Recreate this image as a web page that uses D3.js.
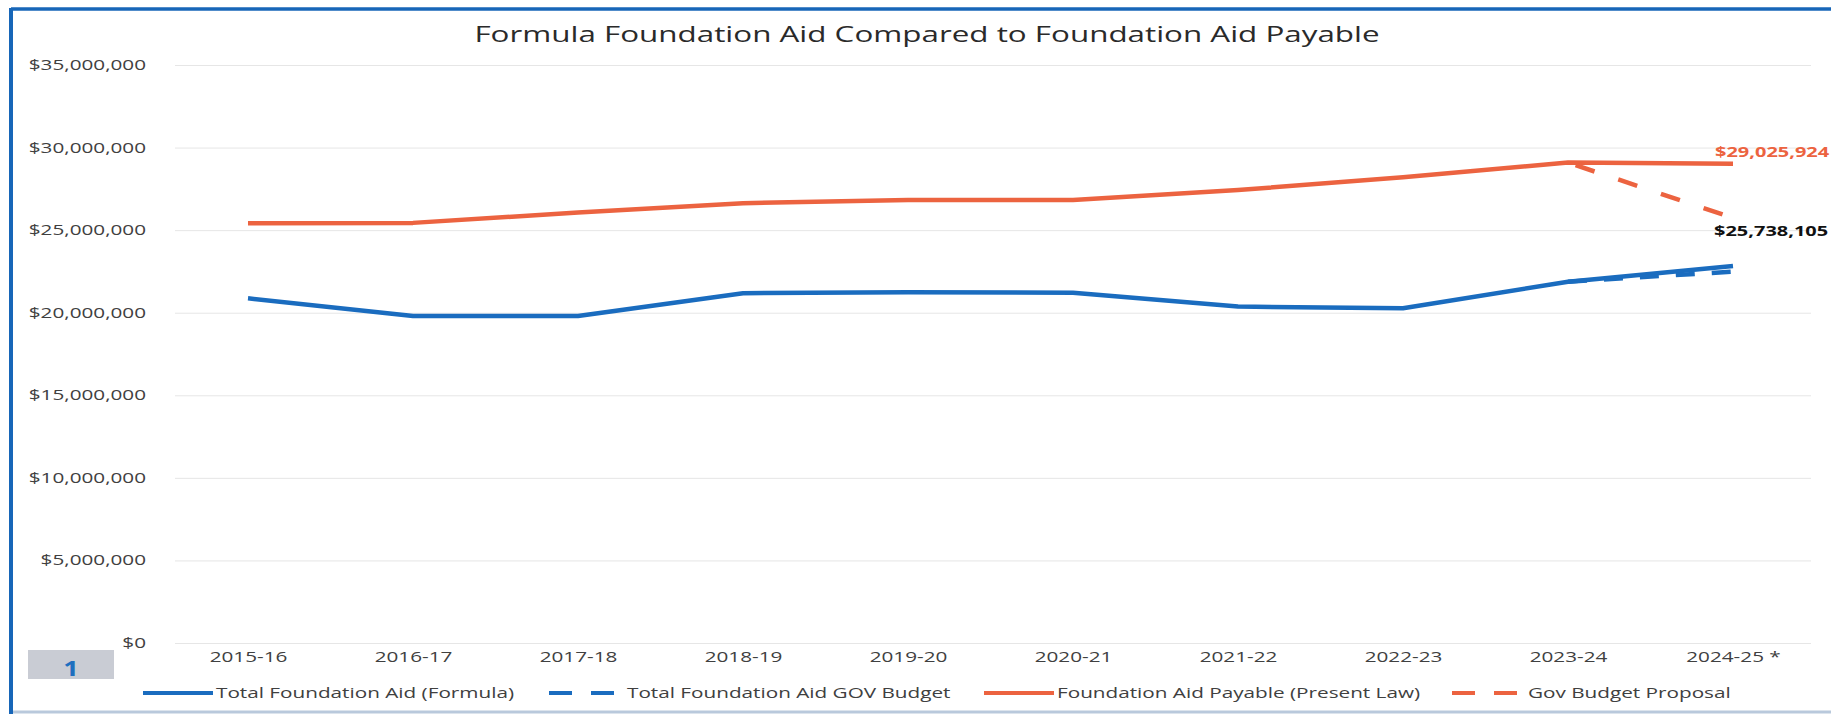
<!DOCTYPE html>
<html>
<head>
<meta charset="utf-8">
<script src="https://cdn.jsdelivr.net/npm/d3@7"></script>
<style>
  html, body { margin: 0; padding: 0; background: #fff; overflow: hidden; width: 1832px; height: 714px; }
  #chart { width: 1832px; height: 714px; overflow: hidden; }
  svg { display: block; }
</style>
</head>
<body>
<div id="chart"></div>
<script>
/* globals d3 */
const years = ["2015-16", "2016-17", "2017-18", "2018-19", "2019-20", "2020-21", "2021-22", "2022-23", "2023-24", "2024-25 *"];
const formulaAid = [20870000, 19800000, 19800000, 21180000, 21240000, 21210000, 20370000, 20270000, 21880000, 22830000];
const govBudgetAid = [null, null, null, null, null, null, null, null, 21880000, 22490000];
const presentLaw = [25420000, 25440000, 26070000, 26630000, 26830000, 26830000, 27430000, 28200000, 29090000, 29025924];
const govProposal = [null, null, null, null, null, null, null, null, 29090000, 25738105];
const yTicks = [0, 5000000, 10000000, 15000000, 20000000, 25000000, 30000000, 35000000];
const seriesNames = ["Total Foundation Aid (Formula)", "Total Foundation Aid GOV Budget", "Foundation Aid Payable (Present Law)", "Gov Budget Proposal"];
const endLabels = [29025924, 25738105];

const width = 1832;
const height = 714;
const blue = "#1a6cbf";
const orange = "#ec6340";
const font = "'Open Sans', sans-serif";
const sx = 1.48; // the scan is stretched sideways, text too

const svg = d3.select("#chart").append("svg")
  .attr("width", width)
  .attr("height", height);

// frame of the page: blue on top and left, pale at the bottom
svg.append("line").attr("x1", 11).attr("x2", width - 1).attr("y1", 9).attr("y2", 9)
  .attr("stroke", "#1766b8").attr("stroke-width", 3.5);
svg.append("line").attr("x1", 11).attr("x2", 11).attr("y1", 8).attr("y2", height)
  .attr("stroke", "#1766b8").attr("stroke-width", 4);
svg.append("line").attr("x1", 13).attr("x2", width - 1).attr("y1", 712).attr("y2", 712)
  .attr("stroke", "#b9c9dc").attr("stroke-width", 3);

const x = d3.scalePoint().domain(years).range([165.5, 1815.5]).padding(0.5);
const y = d3.scaleLinear().domain([0, 35000000]).range([643, 65]);

// gridlines
svg.append("g")
  .attr("transform", "translate(175,0)")
  .call(d3.axisLeft(y).tickValues(yTicks).tickSize(-1636).tickFormat(""))
  .call((g) => g.select(".domain").remove())
  .call((g) => g.selectAll("line").attr("stroke", "#e6e6e6").attr("stroke-width", 1));

// y labels
svg.append("g")
  .attr("transform", "translate(149,0)")
  .call(d3.axisLeft(y).tickValues(yTicks).tickSize(0).tickPadding(2).tickFormat(d3.format("$,")))
  .call((g) => g.select(".domain").remove())
  .call((g) => g.selectAll("text")
    .attr("font-family", font).attr("font-size", 14).attr("fill", "#404040")
    .attr("transform", `scale(${sx},1)`));

// x labels
svg.append("g")
  .attr("transform", "translate(0,652)")
  .call(d3.axisBottom(x).tickSize(0).tickPadding(0))
  .call((g) => g.select(".domain").remove())
  .call((g) => g.selectAll("text")
    .attr("font-family", font).attr("font-size", 14).attr("fill", "#404040")
    .attr("transform", `scale(${sx},1)`));

// title
svg.append("text")
  .attr("transform", `translate(927,42) scale(${sx},1)`)
  .attr("text-anchor", "middle")
  .attr("font-family", font).attr("font-size", 21.2).attr("fill", "#2a2a2a")
  .text("Formula Foundation Aid Compared to Foundation Aid Payable");

const line = d3.line()
  .defined((d) => d != null)
  .x((d, i) => x(years[i]))
  .y((d) => y(d));

function drawSeries(values, color, dash) {
  svg.append("path")
    .datum(values)
    .attr("fill", "none")
    .attr("stroke", color)
    .attr("stroke-width", 4.5)
    .attr("stroke-linejoin", "round")
    .attr("stroke-dasharray", dash)
    .attr("d", line);
}

drawSeries(presentLaw, orange, null);
drawSeries(formulaAid, blue, null);
drawSeries(govBudgetAid, blue, "19,17");
drawSeries(govProposal, orange, "0,8,20,17");

// end labels
const fmt = d3.format("$,");
svg.append("text")
  .attr("transform", `translate(1715,157) scale(${sx},1)`)
  .attr("font-family", font).attr("font-size", 13.5).attr("font-weight", "bold")
  .attr("fill", orange)
  .text(fmt(endLabels[0]));
svg.append("text")
  .attr("transform", `translate(1714,236) scale(${sx},1)`)
  .attr("font-family", font).attr("font-size", 13.5).attr("font-weight", "bold")
  .attr("fill", "#111")
  .text(fmt(endLabels[1]));

// legend
const legendColors = [blue, blue, orange, orange];
const legendDash = [null, "23,19", null, "23,19"];
const legendX = [143, 549, 984, 1452];
const legendTextX = [216, 627, 1057, 1528];
const legend = svg.append("g");
seriesNames.forEach(function (name, i) {
  legend.append("line")
    .attr("x1", legendX[i]).attr("x2", legendTextX[i] - 3)
    .attr("y1", 693).attr("y2", 693)
    .attr("stroke", legendColors[i])
    .attr("stroke-width", 4)
    .attr("stroke-dasharray", legendDash[i]);
  legend.append("text")
    .attr("transform", `translate(${legendTextX[i]},698) scale(${sx},1)`)
    .attr("font-family", font).attr("font-size", 14).attr("fill", "#404040")
    .text(name);
});

// page number tab
svg.append("rect")
  .attr("x", 28).attr("y", 650).attr("width", 86).attr("height", 29)
  .attr("fill", "#c9ccd4");
svg.append("text")
  .attr("transform", "translate(71,676) scale(1.3,1)")
  .attr("text-anchor", "middle")
  .attr("font-family", font).attr("font-size", 21).attr("font-weight", "bold")
  .attr("fill", "#1f6fbf")
  .text("1");
</script>
</body>
</html>
